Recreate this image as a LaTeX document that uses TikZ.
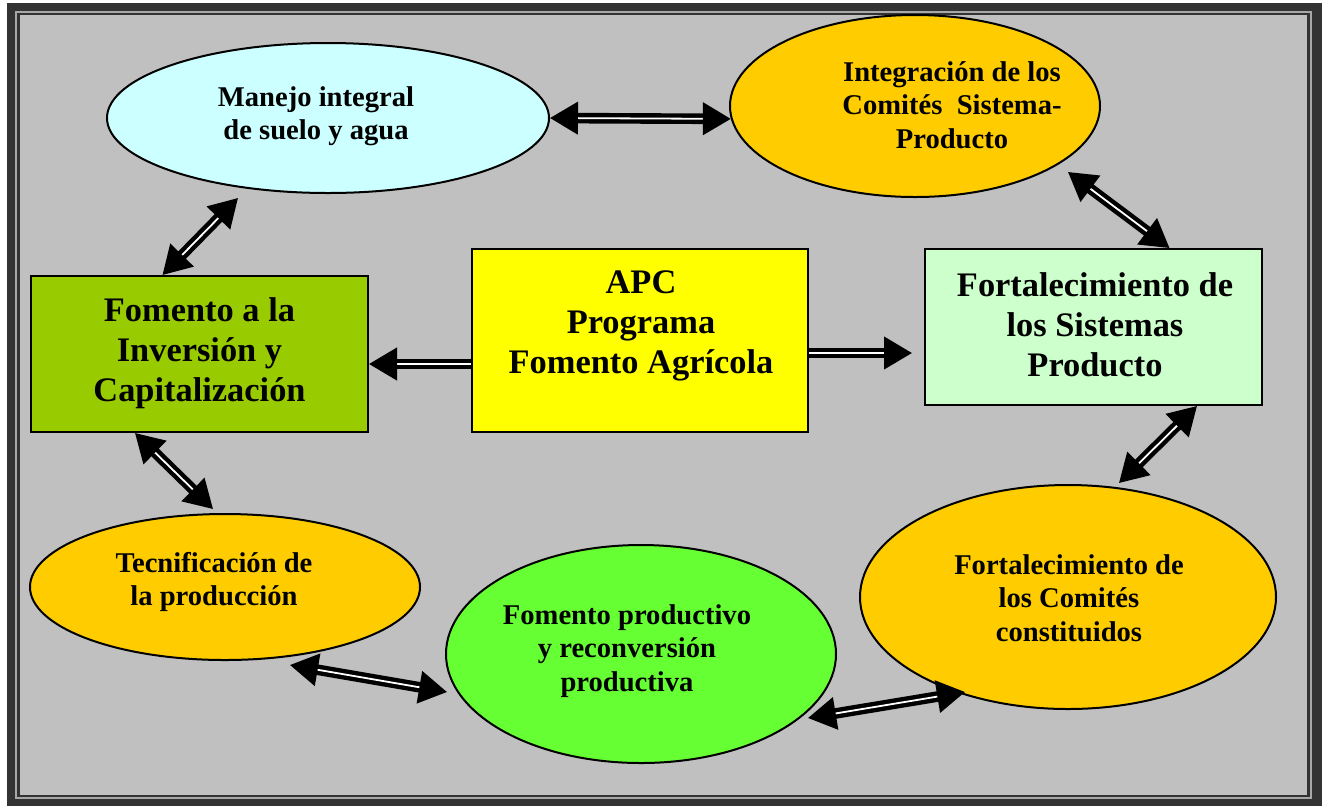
\documentclass[tikz,border=0pt]{standalone}
\usepackage{fontspec}
\setmainfont{Liberation Serif}
\usetikzlibrary{shapes.geometric,arrows.meta,calc}
\definecolor{framegray}{HTML}{333333}
\definecolor{linegray}{HTML}{A8A8A8}
\definecolor{bggray}{HTML}{C0C0C0}
\definecolor{mycyan}{HTML}{CCFFFF}
\definecolor{myorange}{HTML}{FFCC00}
\definecolor{mylime}{HTML}{99CC00}
\definecolor{myyellow}{HTML}{FFFF00}
\definecolor{mymint}{HTML}{CCFFCC}
\definecolor{mygreen}{HTML}{66FF33}

\begin{document}
\begin{tikzpicture}[x=0.5pt, y=-0.5pt,
    oval/.style={ellipse, draw, line width=1pt, inner sep=0pt},
    box/.style={rectangle, draw, line width=1pt, inner sep=0pt},
    smalltxt/.style={align=center, font=\fontsize{14.3}{16.7}\selectfont\bfseries},
    bigtxt/.style={align=center, font=\fontsize{17.2}{20}\selectfont\bfseries},
    link/.style={double, double distance=0.9pt, line width=2.2pt,
        {Triangle[length=14pt,width=16pt]}-{Triangle[length=14pt,width=16pt]}},
    oneway/.style={double, double distance=0.9pt, line width=2.2pt,
        -{Triangle[length=14pt,width=16pt]}}]

    \useasboundingbox (0,0) rectangle (1322,805);

    % Frame and background
    \fill[framegray] (7,3) rectangle (1340,820);
    \draw[linegray, line width=0.8pt] (16,12) rectangle (1311,798);
    \fill[bggray] (20,15) rectangle (1307,795);

    % Ellipses
    \node[oval, fill=mycyan, minimum width=221pt, minimum height=75pt] (manejo) at (328,118) {};
    \node[oval, fill=myorange, minimum width=185pt, minimum height=91pt] (integracion) at (915,106) {};
    \node[oval, fill=myorange, minimum width=195pt, minimum height=73pt] (tecnificacion) at (225,587) {};
    \node[oval, fill=mygreen, minimum width=195pt, minimum height=109pt] (fomento) at (641,654) {};
    \node[oval, fill=myorange, minimum width=208pt, minimum height=112pt] (comites) at (1068,597) {};

    % Boxes
    \node[box, fill=mylime, minimum width=168.5pt, minimum height=78pt] (inversion) at (199.5,354) {};
    \node[box, fill=myyellow, minimum width=168pt, minimum height=91.5pt] (apc) at (640,340.5) {};
    \node[box, fill=mymint, minimum width=168.5pt, minimum height=78pt] (sistemas) at (1093.5,327) {};

    % Texts
    \node[smalltxt] (manejo-t) at ($(manejo)+(-12,-2)$) {Manejo integral\\de suelo y agua};
    \node[smalltxt] (integracion-t) at ($(integracion)+(37,-1)$) {Integración de los\\Comités~ Sistema-\\Producto};
    \node[smalltxt] (tecnificacion-t) at ($(tecnificacion)+(-11,-5)$) {Tecnificación de\\la producción};
    \node[smalltxt] (fomento-t) at ($(fomento)+(-14,-3)$) {Fomento productivo\\y reconversión\\productiva};
    \node[smalltxt] (comites-t) at ($(comites)+(1,1)$) {Fortalecimiento de\\los Comités\\constituidos};
    \node[bigtxt] (inversion-t) at ($(inversion)+(0,-1)$) {Fomento a la\\Inversión y\\Capitalización};
    \node[bigtxt] (apc-t) at ($(apc)+(1,-14.5)$) {APC\\Programa\\Fomento Agrícola};
    \node[bigtxt] (sistemas-t) at ($(sistemas)+(1.5,-2)$) {Fortalecimiento de\\los Sistemas\\Producto};

    % Arrows
    \draw[link] (manejo.east) -- (integracion.184);
    \draw[link] ($(inversion.north)+(-37,0)$) -- ($(manejo)+(-90,80)$);
    \draw[link] ($(integracion)+(153,66)$) -- ($(sistemas.north)+(76,0)$);
    \draw[oneway] ($(apc.west)+(0,23.5)$) -- ($(inversion.east)+(0,10)$);
    \draw[oneway] ($(apc.east)+(0,12.5)$) -- ($(sistemas.west)+(-12,26)$);
    \draw[link] ($(sistemas.south)+(103.5,0)$) -- ($(comites)+(51,-114)$);
    \draw[link] ($(inversion.south)+(-64.5,0)$) -- ($(tecnificacion)+(-12,-78)$);
    \draw[link] ($(tecnificacion)+(65,78)$) -- ($(fomento)+(-194,38)$);
    \draw[link] ($(fomento)+(167,64)$) -- ($(comites)+(-103,95)$);

\end{tikzpicture}
\end{document}
